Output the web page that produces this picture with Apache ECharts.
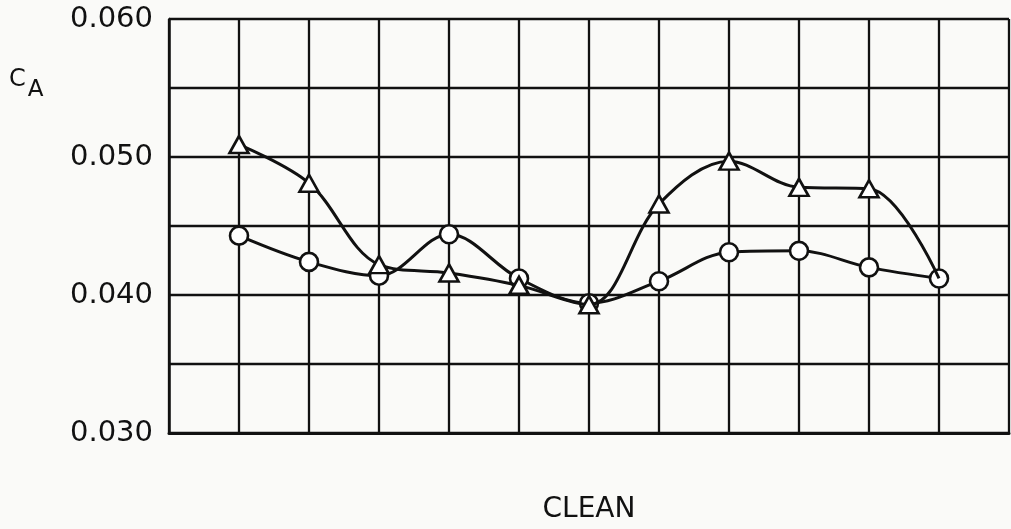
<!DOCTYPE html>
<html>
<head>
<meta charset="utf-8">
<script src="https://cdn.jsdelivr.net/npm/echarts@6/dist/echarts.min.js"></script>
<style>
  html, body { margin: 0; padding: 0; background: #fafaf8; }
  #chart { width: 1011px; height: 529px; }
</style>
</head>
<body>
<div id="chart"></div>
<script>
// Station positions along the model (grid columns 1..11 of 0..12)
const stations = [1, 2, 3, 4, 5, 6, 7, 8, 9, 10, 11];
// Axial-force coefficient, circle-marked configuration
const caCircle = [0.0443, 0.0424, 0.0414, 0.0444, 0.0412, 0.0394, 0.0410, 0.0431, 0.0432, 0.0420, 0.0412];
// Axial-force coefficient, triangle-marked configuration
const caTriangle = [0.0509, 0.0481, 0.0422, 0.0416, 0.0407, 0.0393, 0.0466, 0.0497, 0.0478, 0.0477, 0.0412];
// Tick values that carry a label on the C_A axis
const yTickLabels = [0.030, 0.040, 0.050, 0.060];
const xAxisTitle = 'CLEAN';

const ink = '#111';
const fam = '"DejaVu Sans", "Liberation Sans", sans-serif';

const circleData = stations.map((s, i) => [s, caCircle[i]]);
// the triangle curve ends on the last circle point without its own marker
const triangleData = stations.map((s, i) =>
  i === stations.length - 1 ? { value: [s, caTriangle[i]], symbol: 'none' } : [s, caTriangle[i]]);

const chart = echarts.init(document.getElementById('chart'), null, { renderer: 'canvas' });
chart.setOption({
  backgroundColor: '#fafaf8',
  animation: false,
  grid: { left: 169, right: 2, top: 19, bottom: 88 },
  xAxis: {
    type: 'value', min: 0, max: 12, interval: 1,
    axisLine: { show: true, lineStyle: { color: ink, width: 3 } },
    axisTick: { show: false },
    axisLabel: { show: false },
    splitLine: { show: true, lineStyle: { color: ink, width: 2.3 } },
    name: xAxisTitle, nameLocation: 'middle', nameGap: 63,
    nameTextStyle: { color: ink, fontFamily: fam, fontSize: 28 }
  },
  yAxis: {
    type: 'value', min: 0.030, max: 0.060, interval: 0.005,
    axisLine: { show: true, lineStyle: { color: ink, width: 2.5 } },
    axisTick: { show: false },
    splitLine: { show: true, lineStyle: { color: ink, width: 2.3 } },
    axisLabel: {
      color: ink, fontFamily: fam, fontSize: 29, margin: 16,
      formatter: v => {
        const hit = yTickLabels.find(t => Math.abs(t - v) < 1e-9);
        return hit === undefined ? '' : hit.toFixed(3);
      }
    }
  },
  series: [
    {
      type: 'line', data: circleData, smooth: 0.35, z: 3,
      symbol: 'circle', symbolSize: 18,
      lineStyle: { color: ink, width: 3 },
      itemStyle: { color: '#fff', borderColor: ink, borderWidth: 2.6 }
    },
    {
      type: 'line', data: triangleData, smooth: 0.35, z: 4,
      symbol: 'triangle', symbolSize: [19, 17],
      lineStyle: { color: ink, width: 3 },
      itemStyle: { color: '#fff', borderColor: ink, borderWidth: 2.6 }
    }
  ],
  graphic: [
    {
      type: 'text', left: 9, top: 68,
      style: {
        text: '{c|C}{a|A}',
        rich: {
          c: { font: '24px ' + fam, fill: ink, verticalAlign: 'top', height: 24 },
          a: { font: '23px ' + fam, fill: ink, padding: [10, 0, 0, 2], height: 24 }
        }
      }
    }
  ]
});
</script>
</body>
</html>
